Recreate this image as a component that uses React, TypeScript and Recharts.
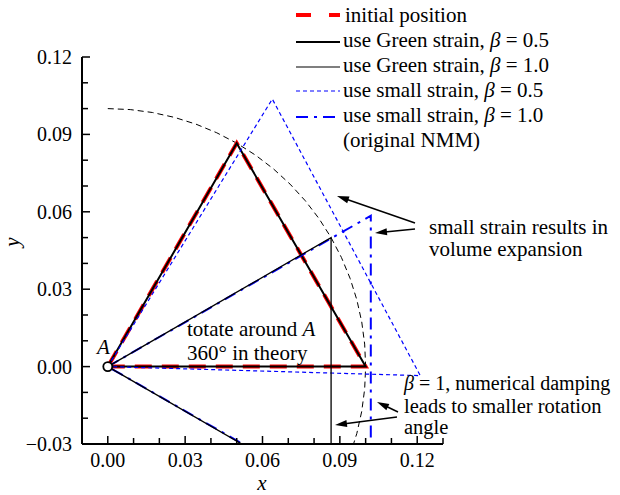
import { LineChart, Line, XAxis, YAxis, ReferenceDot } from 'recharts';

// triangle vertices (x, y)
const initialPosition = [
    { x: 0, y: 0 },
    { x: 0.1, y: 0 },
    { x: 0.05, y: 0.0866 },
    { x: 0, y: 0 },
];
const greenBeta05 = [
    { x: 0, y: 0 },
    { x: 0.1, y: 0 },
    { x: 0.05, y: 0.0866 },
    { x: 0, y: 0 },
];
const greenBeta10 = [
    { x: 0, y: 0 },
    { x: 0.0866, y: 0.05 },
    { x: 0.0866, y: -0.05 },
    { x: 0, y: 0 },
];
const smallBeta05 = [
    { x: 0, y: 0 },
    { x: 0.0638, y: 0.1037 },
    { x: 0.1212, y: -0.0035 },
    { x: 0, y: 0 },
];
const smallBeta10 = [
    { x: 0, y: 0 },
    { x: 0.102, y: 0.0585 },
    { x: 0.102, y: -0.0585 },
    { x: 0, y: 0 },
];
// r = 0.1 reference arc (dashed)
const circleArc = [
    { x: 0, y: 0.1 },
    { x: 0.00872, y: 0.09962 },
    { x: 0.01736, y: 0.09848 },
    { x: 0.02588, y: 0.09659 },
    { x: 0.0342, y: 0.09397 },
    { x: 0.04226, y: 0.09063 },
    { x: 0.05, y: 0.0866 },
    { x: 0.05736, y: 0.08192 },
    { x: 0.06428, y: 0.0766 },
    { x: 0.07071, y: 0.07071 },
    { x: 0.0766, y: 0.06428 },
    { x: 0.08192, y: 0.05736 },
    { x: 0.0866, y: 0.05 },
    { x: 0.09063, y: 0.04226 },
    { x: 0.09397, y: 0.0342 },
    { x: 0.09659, y: 0.02588 },
    { x: 0.09848, y: 0.01736 },
    { x: 0.09962, y: 0.00872 },
    { x: 0.1, y: 0 },
    { x: 0.09962, y: -0.00872 },
    { x: 0.09848, y: -0.01736 },
    { x: 0.09659, y: -0.02588 },
    { x: 0.09397, y: -0.0342 },
];
const pointA = { x: 0, y: 0 };

const xTicks = [-0.01, 0, 0.01, 0.02, 0.03, 0.04, 0.05, 0.06, 0.07, 0.08, 0.09, 0.1, 0.11, 0.12, 0.13];
const xMajor = [0, 0.03, 0.06, 0.09, 0.12];
const xLabels = ['0.00', '0.03', '0.06', '0.09', '0.12'];
const yTicks = [-0.03, -0.02, -0.01, 0, 0.01, 0.02, 0.03, 0.04, 0.05, 0.06, 0.07, 0.08, 0.09, 0.1, 0.11, 0.12];
const yMajor = [-0.03, 0, 0.03, 0.06, 0.09, 0.12];
const yLabels = ['\u22120.03', '0.00', '0.03', '0.06', '0.09', '0.12'];

const FONT = "'Liberation Serif', 'Times New Roman', serif";
const BLUE = '#0000ff';

const labelFor = (v: number, major: number[], labels: string[]) => {
    const i = major.findIndex(m => Math.abs(m - v) < 1e-6);
    return i >= 0 ? labels[i] : null;
};

const XTick = (props: any) => {
    const { x, y, payload } = props;
    const label = labelFor(payload.value, xMajor, xLabels);
    const axisY = y - 9;
    return (
        <g>
            <line x1={x} x2={x} y1={axisY} y2={axisY - (label ? 8 : 6)} stroke="#000" strokeWidth={1.5} />
            {label && (
                <text x={x} y={y} dy="0.71em" textAnchor="middle" fontFamily={FONT} fontSize={20} fill="#000">{label}</text>
            )}
        </g>
    );
};

const YTick = (props: any) => {
    const { x, y, payload } = props;
    const label = labelFor(payload.value, yMajor, yLabels);
    const axisX = x + 10;
    return (
        <g>
            <line x1={axisX} x2={axisX + (label ? 8 : 6)} y1={y} y2={y} stroke="#000" strokeWidth={1.5} />
            {label && (
                <text x={x} y={y} dy="0.35em" textAnchor="end" fontFamily={FONT} fontSize={20} fill="#000">{label}</text>
            )}
        </g>
    );
};

const Arrow = ({ x1, y1, x2, y2 }: { x1: number; y1: number; x2: number; y2: number }) => {
    const dx = x2 - x1, dy = y2 - y1;
    const len = Math.hypot(dx, dy);
    const ux = dx / len, uy = dy / len;
    const hl = 12, hw = 3.5;
    const bx = x2 - ux * hl, by = y2 - uy * hl;
    return (
        <g>
            <line x1={x1} y1={y1} x2={bx + ux * 2} y2={by + uy * 2} stroke="#000" strokeWidth={1.5} />
            <polygon points={`${x2},${y2} ${bx - uy * hw},${by + ux * hw} ${bx + uy * hw},${by - ux * hw}`} fill="#000" />
        </g>
    );
};

const Beta = () => <tspan fontStyle="italic">β</tspan>;

export default function App() {
    const legendRows = [
        { key: 'init', cy: 15, stroke: '#ff0000', w: 4, dash: '15 18' },
        { key: 'g05', cy: 42, stroke: '#000', w: 2, dash: undefined },
        { key: 'g10', cy: 67, stroke: '#000', w: 1.2, dash: undefined },
        { key: 's05', cy: 91, stroke: BLUE, w: 1.2, dash: '4 3' },
        { key: 's10', cy: 117, stroke: BLUE, w: 2, dash: '12 6 3 6' },
    ];

    return (
        <div style={{ position: 'absolute', left: 0, top: 0, width: 620, height: 495, background: '#fff' }}>
            <LineChart width={620} height={495} margin={{ top: 57, right: 177, bottom: 21, left: 22 }}>
                <XAxis
                    type="number"
                    dataKey="x"
                    domain={[-0.01, 0.13]}
                    ticks={xTicks}
                    interval={0}
                    allowDataOverflow
                    height={30}
                    tickLine={false}
                    tickSize={0}
                    tickMargin={9}
                    axisLine={{ stroke: '#000', strokeWidth: 2 }}
                    tick={(p: any) => <XTick {...p} />}
                />
                <YAxis
                    type="number"
                    dataKey="y"
                    domain={[-0.03, 0.12]}
                    ticks={yTicks}
                    interval={0}
                    allowDataOverflow
                    width={60}
                    tickLine={false}
                    tickSize={0}
                    tickMargin={10}
                    axisLine={{ stroke: '#000', strokeWidth: 2 }}
                    tick={(p: any) => <YTick {...p} />}
                />
                <Line data={circleArc} dataKey="y" stroke="#000" strokeWidth={1} strokeDasharray="6 4" dot={false} isAnimationActive={false} />
                <Line data={initialPosition} dataKey="y" stroke="#ff0000" strokeWidth={4} strokeDasharray="17 10" dot={false} isAnimationActive={false} />
                <Line data={greenBeta05} dataKey="y" stroke="#000" strokeWidth={2} dot={false} isAnimationActive={false} />
                <Line data={smallBeta05} dataKey="y" stroke={BLUE} strokeWidth={1.2} strokeDasharray="4 3" dot={false} isAnimationActive={false} />
                <Line data={smallBeta10} dataKey="y" stroke={BLUE} strokeWidth={2} strokeDasharray="12 6 3 6" dot={false} isAnimationActive={false} />
                <Line data={greenBeta10} dataKey="y" stroke="#000" strokeWidth={1.3} dot={false} isAnimationActive={false} />
                <ReferenceDot x={pointA.x} y={pointA.y} r={4.5} fill="#fff" stroke="#000" strokeWidth={1.8} />
            </LineChart>

            <svg width={620} height={495} style={{ position: 'absolute', left: 0, top: 0, pointerEvents: 'none' }} fontFamily={FONT} fontSize={21}>
                {/* legend */}
                {legendRows.map(r => (
                    <line key={r.key} x1={296} x2={340} y1={r.cy} y2={r.cy} stroke={r.stroke} strokeWidth={r.w} strokeDasharray={r.dash} />
                ))}
                <text x={345} y={22}>initial position</text>
                <text x={343} y={47}>use Green strain, <Beta /> = 0.5</text>
                <text x={343} y={72}>use Green strain, <Beta /> = 1.0</text>
                <text x={343} y={97}>use small strain, <Beta /> = 0.5</text>
                <text x={343} y={122}>use small strain, <Beta /> = 1.0</text>
                <text x={343} y={147}>(original NMM)</text>

                {/* axis titles */}
                <text x={262} y={490} textAnchor="middle" fontStyle="italic">x</text>
                <text x={0} y={0} textAnchor="middle" fontStyle="italic" transform="translate(19 242) rotate(-90)">y</text>

                {/* annotations */}
                <text x={97} y={354} fontStyle="italic">A</text>
                <text x={187} y={336}>totate around <tspan fontStyle="italic">A</tspan></text>
                <text x={187} y={360}>360° in theory</text>
                <text x={429} y={234}>small strain results in</text>
                <text x={429} y={256}>volume expansion</text>
                <text x={404} y={390} fontSize={20}><Beta /> = 1, numerical damping</text>
                <text x={404} y={413} fontSize={20.5}>leads to smaller rotation</text>
                <text x={404} y={434} fontSize={20.5}>angle</text>

                <Arrow x1={415} y1={223} x2={337} y2={196} />
                <Arrow x1={415} y1={229} x2={375} y2={233} />
                <Arrow x1={398} y1={412} x2={377} y2={402} />
                <Arrow x1={397} y1={417} x2={335} y2={425} />
            </svg>
        </div>
    );
}
